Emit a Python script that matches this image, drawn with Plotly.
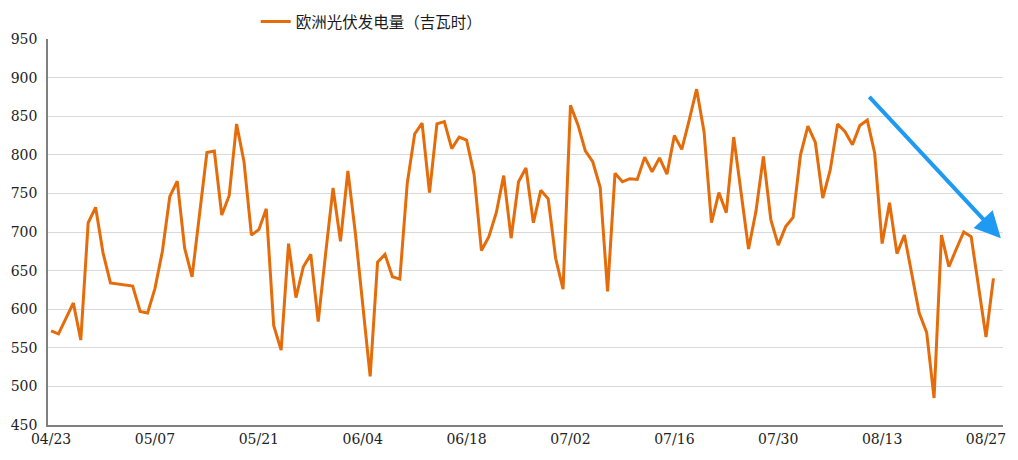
import plotly.graph_objects as go
import pandas as pd

series_name = "欧洲光伏发电量（吉瓦时）"

dates = [
    "2024-04-23", "2024-04-24", "2024-04-25", "2024-04-26", "2024-04-27", "2024-04-28", "2024-04-29", "2024-04-30",
    "2024-05-01", "2024-05-04", "2024-05-05", "2024-05-06", "2024-05-07", "2024-05-08", "2024-05-09", "2024-05-10",
    "2024-05-11", "2024-05-12", "2024-05-14", "2024-05-15", "2024-05-16", "2024-05-17", "2024-05-18", "2024-05-19",
    "2024-05-20", "2024-05-21", "2024-05-22", "2024-05-23", "2024-05-24", "2024-05-25", "2024-05-26", "2024-05-27",
    "2024-05-28", "2024-05-29", "2024-05-30", "2024-05-31", "2024-06-01", "2024-06-02", "2024-06-03", "2024-06-04",
    "2024-06-05", "2024-06-06", "2024-06-07", "2024-06-08", "2024-06-09", "2024-06-10", "2024-06-11", "2024-06-12",
    "2024-06-13", "2024-06-14", "2024-06-15", "2024-06-16", "2024-06-17", "2024-06-18", "2024-06-19", "2024-06-20",
    "2024-06-21", "2024-06-22", "2024-06-23", "2024-06-24", "2024-06-25", "2024-06-26", "2024-06-27", "2024-06-28",
    "2024-06-29", "2024-06-30", "2024-07-01", "2024-07-02", "2024-07-03", "2024-07-04", "2024-07-05", "2024-07-06",
    "2024-07-07", "2024-07-08", "2024-07-09", "2024-07-10", "2024-07-11", "2024-07-12", "2024-07-13", "2024-07-14",
    "2024-07-15", "2024-07-16", "2024-07-17", "2024-07-18", "2024-07-19", "2024-07-20", "2024-07-21", "2024-07-22",
    "2024-07-23", "2024-07-24", "2024-07-25", "2024-07-26", "2024-07-27", "2024-07-28", "2024-07-29", "2024-07-30",
    "2024-07-31", "2024-08-01", "2024-08-02", "2024-08-03", "2024-08-04", "2024-08-05", "2024-08-06", "2024-08-07",
    "2024-08-08", "2024-08-09", "2024-08-10", "2024-08-11", "2024-08-12", "2024-08-13", "2024-08-14", "2024-08-15",
    "2024-08-16", "2024-08-17", "2024-08-18", "2024-08-19", "2024-08-20", "2024-08-21", "2024-08-22", "2024-08-23",
    "2024-08-24", "2024-08-25", "2024-08-26", "2024-08-27", "2024-08-28",
]

values = [
    572, 568, 588, 608, 560, 712, 732, 673,
    634, 630, 597, 595, 627, 675, 746, 766,
    679, 642, 803, 805, 722, 747, 840, 791,
    696, 703, 730, 579, 547, 685, 615, 655,
    671, 584, 672, 757, 688, 779, 699, 604,
    513, 661, 671, 642, 639, 763, 827, 841,
    751, 840, 843, 808, 823, 819, 775, 676,
    694, 725, 773, 692, 765, 783, 712, 754,
    743, 666, 626, 864, 839, 805, 791, 758,
    623, 776, 765, 769, 768, 797, 778, 796,
    775, 825, 807, 845, 885, 830, 712, 751,
    725, 823, 753, 678, 727, 798, 716, 683,
    707, 719, 800, 837, 816, 744, 780, 840,
    830, 813, 838, 845, 802, 685, 738, 672,
    696, 645, 595, 570, 485, 696, 655, 678,
    700, 694, 630, 564, 640,
]

tick_dates = ["2024-04-23", "2024-05-07", "2024-05-21", "2024-06-04", "2024-06-18",
              "2024-07-02", "2024-07-16", "2024-07-30", "2024-08-13", "2024-08-27"]
tick_labels = ["04/23", "05/07", "05/21", "06/04", "06/18",
               "07/02", "07/16", "07/30", "08/13", "08/27"]

y_ticks = [450, 500, 550, 600, 650, 700, 750, 800, 850, 900, 950]

# trend arrow (annotation), start and end in data space
arrow_start = ("2024-08-11 02:00", 877)
arrow_end = ("2024-08-29 00:00", 692)

orange = "#E46C0A"
blue = "#1E9AF2"

fig = go.Figure()
fig.add_trace(go.Scatter(
    x=pd.to_datetime(dates), y=values, mode="lines", name=series_name,
    line=dict(color=orange, width=3),
))

fig.add_annotation(
    x=arrow_end[0], y=arrow_end[1], ax=arrow_start[0], ay=arrow_start[1],
    xref="x", yref="y", axref="x", ayref="y",
    showarrow=True, arrowhead=2, arrowsize=1.3, arrowwidth=4,
    arrowcolor=blue, text="",
)

# page body has an 8px default margin, so the figure is sized to fit the window
fig.update_layout(
    width=1010, height=452,
    margin=dict(l=40, r=15, t=31, b=35, autoexpand=False),
    plot_bgcolor="white", paper_bgcolor="white",
    showlegend=True,
    legend=dict(
        orientation="h", x=0.2175, xanchor="left", y=1.0, yanchor="bottom",
        font=dict(family="Noto Sans CJK SC", size=15.5, color="#1a1a1a"),
        bgcolor="rgba(0,0,0,0)", itemwidth=30,
    ),
    xaxis=dict(
        type="date",
        range=["2024-04-22 14:00", "2024-08-29 07:00"],
        tickvals=tick_dates, ticktext=tick_labels,
        showgrid=False, showline=True, linecolor="#808080", linewidth=1.5,
        ticks="", tickfont=dict(family="DejaVu Serif", size=14, color="#222"),
        zeroline=False, automargin=False,
    ),
    yaxis=dict(
        range=[450, 950], tickvals=y_ticks,
        showgrid=True, gridcolor="#D9D9D9", gridwidth=1,
        showline=True, linecolor="#808080", linewidth=1.5,
        ticks="", tickfont=dict(family="DejaVu Serif", size=14, color="#222"),
        zeroline=False, ticklabelstandoff=6, automargin=False,
    ),
)

fig.write_html("out.html")
